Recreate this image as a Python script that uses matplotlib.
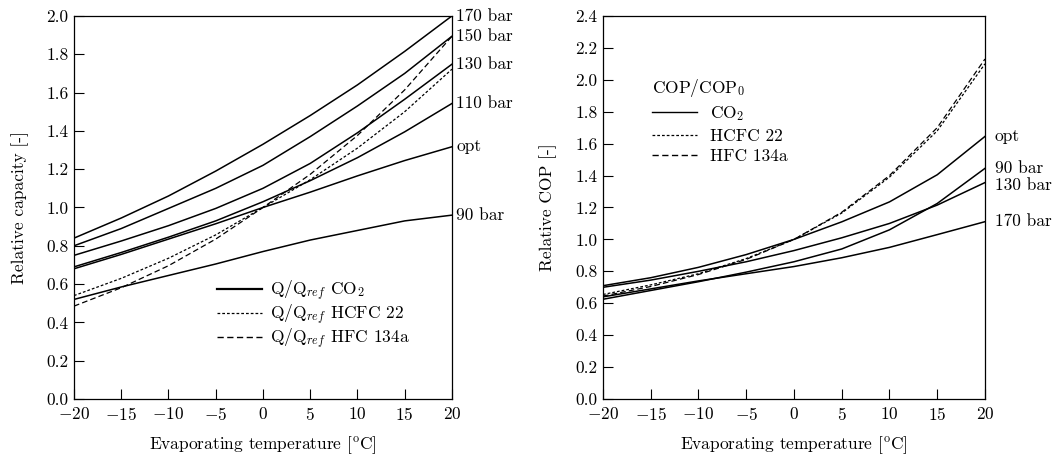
import matplotlib

matplotlib.use('Agg')

import matplotlib.pyplot as plt
import numpy as np

plt.rcParams['font.family'] = 'serif'
plt.rcParams['font.serif'] = ['cmr10', 'DejaVu Serif']
plt.rcParams['mathtext.fontset'] = 'cm'
plt.rcParams['axes.formatter.use_mathtext'] = True
plt.rcParams['axes.unicode_minus'] = True

# evaporating temperature [C]
temps = [-20, -15, -10, -5, 0, 5, 10, 15, 20]

# relative capacity, CO2 at several gas cooler pressures
cap_labels = ['170 bar', '150 bar', '130 bar', '110 bar', 'opt', '90 bar']
cap_170 = [0.84, 0.945, 1.06, 1.19, 1.33, 1.48, 1.64, 1.815, 2.00]
cap_150 = [0.80, 0.89, 0.995, 1.10, 1.22, 1.37, 1.53, 1.70, 1.894]
cap_130 = [0.75, 0.825, 0.905, 0.995, 1.10, 1.23, 1.39, 1.565, 1.748]
cap_110 = [0.69, 0.765, 0.845, 0.93, 1.03, 1.14, 1.26, 1.395, 1.543]
cap_opt = [0.68, 0.755, 0.835, 0.915, 1.00, 1.08, 1.165, 1.245, 1.317]
cap_90 = [0.52, 0.585, 0.645, 0.705, 0.77, 0.83, 0.88, 0.93, 0.96]
cap_r22 = [0.54, 0.63, 0.735, 0.857, 1.00, 1.145, 1.31, 1.50, 1.722]
cap_r134a = [0.485, 0.581, 0.696, 0.835, 1.00, 1.173, 1.376, 1.614, 1.894]

# relative COP
cop_labels = ['opt', '90 bar', '130 bar', '170 bar']
cop_opt = [0.71, 0.76, 0.825, 0.905, 1.00, 1.11, 1.235, 1.405, 1.645]
cop_90 = [0.625, 0.68, 0.735, 0.795, 0.86, 0.94, 1.06, 1.225, 1.445]
cop_130 = [0.70, 0.745, 0.80, 0.86, 0.93, 1.01, 1.10, 1.215, 1.356]
cop_170 = [0.64, 0.69, 0.74, 0.785, 0.83, 0.885, 0.95, 1.03, 1.111]
cop_r22 = [0.655, 0.715, 0.785, 0.88, 1.00, 1.165, 1.39, 1.68, 2.10]
cop_r134a = [0.645, 0.705, 0.78, 0.875, 1.00, 1.17, 1.40, 1.70, 2.13]

DOT = (0, (2.2, 1.6))
DASH = (0, (4.5, 2.5))
LW = 1.1
FS = 12.5

fig = plt.figure(figsize=(10.54, 4.55), dpi=100)
ax1 = fig.add_axes([0.0702, 0.123, 0.3586, 0.842])
ax2 = fig.add_axes([0.5721, 0.123, 0.3624, 0.842])


def style_axes(ax, ymax, ylabel):
    ax.set_xlim(-20, 20)
    ax.set_ylim(0, ymax)
    ax.set_xticks(np.arange(-20, 21, 5))
    ax.set_yticks(np.arange(0, ymax + 0.01, 0.2))
    ax.yaxis.set_major_formatter(matplotlib.ticker.FormatStrFormatter('%.1f'))
    ax.tick_params(direction='in', length=7, width=0.8, labelsize=FS, pad=4)
    ax.tick_params(axis='x', pad=5)
    for s in ax.spines.values():
        s.set_linewidth(0.9)
    ax.set_xlabel('Evaporating temperature [$^{\\rm o}$C]', fontsize=FS, labelpad=8)
    ax.set_ylabel(ylabel, fontsize=FS)
    ax.yaxis.set_label_coords(-0.12, 0.5)


# left: capacity
for vals in [cap_170, cap_150, cap_130, cap_110, cap_opt, cap_90]:
    ax1.plot(temps, vals, color='black', lw=LW)
ax1.plot(temps, cap_r22, color='black', lw=0.9, linestyle=DOT)
ax1.plot(temps, cap_r134a, color='black', lw=0.9, linestyle=DASH)
for lab, vals in zip(cap_labels, [cap_170, cap_150, cap_130, cap_110, cap_opt, cap_90]):
    ax1.annotate(lab, xy=(20, vals[-1]), xytext=(3, 0), textcoords='offset points',
                 va='center', ha='left', fontsize=FS, annotation_clip=False)
style_axes(ax1, 2.0, 'Relative capacity [-]')

h1 = [plt.Line2D([], [], color='black', lw=1.6),
      plt.Line2D([], [], color='black', lw=0.9, linestyle=DOT),
      plt.Line2D([], [], color='black', lw=1.0, linestyle=DASH)]
ax1.legend(h1, ['Q/Q$_{ref}$ CO$_2$', 'Q/Q$_{ref}$ HCFC 22', 'Q/Q$_{ref}$ HFC 134a'],
           loc='center left', bbox_to_anchor=(0.345, 0.219), frameon=False, fontsize=FS,
           handlelength=2.6, handletextpad=0.5, labelspacing=0.0, borderpad=0.2)

# right: COP
for vals in [cop_opt, cop_90, cop_130, cop_170]:
    ax2.plot(temps, vals, color='black', lw=LW)
ax2.plot(temps, cop_r22, color='black', lw=0.9, linestyle=DOT)
ax2.plot(temps, cop_r134a, color='black', lw=0.9, linestyle=DASH)
for lab, vals in zip(cop_labels, [cop_opt, cop_90, cop_130, cop_170]):
    off = -2 if lab == '130 bar' else 0
    ax2.annotate(lab, xy=(20, vals[-1]), xytext=(7, off), textcoords='offset points',
                 va='center', ha='left', fontsize=FS, annotation_clip=False)
style_axes(ax2, 2.4, 'Relative COP [-]')

h2 = [plt.Line2D([], [], color='black', lw=1.0),
      plt.Line2D([], [], color='black', lw=0.9, linestyle=DOT),
      plt.Line2D([], [], color='black', lw=1.0, linestyle=DASH)]
ax2.legend(h2, ['CO$_2$', 'HCFC 22', 'HFC 134a'], title='COP/COP$_0$',
           loc='upper left', bbox_to_anchor=(0.096, 0.872), frameon=False,
           fontsize=FS, title_fontsize=FS, handlelength=2.6,
           handletextpad=0.75, labelspacing=0.3, borderpad=0.2, alignment='left')

fig.savefig('out.png', dpi=100)
